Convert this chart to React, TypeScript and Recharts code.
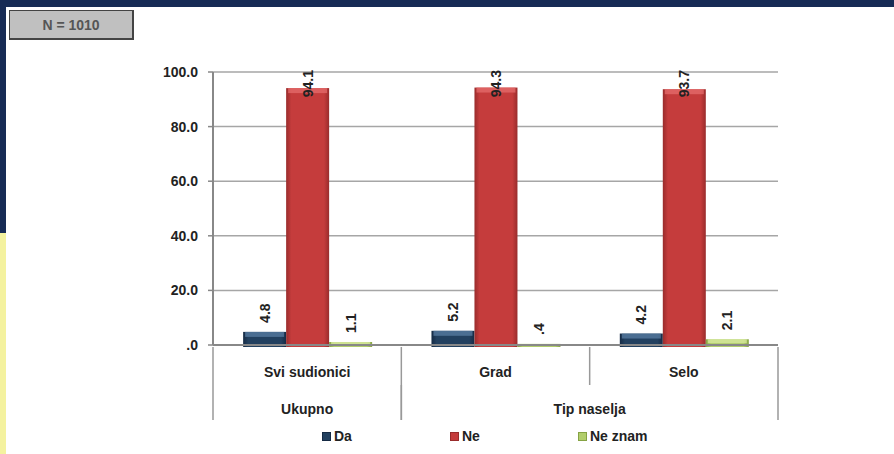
import { BarChart, Bar, XAxis, YAxis, CartesianGrid, Legend, LabelList } from 'recharts';

const categories = ['Svi sudionici', 'Grad', 'Selo'];
const groups = ['Ukupno', 'Tip naselja', 'Tip naselja'];
const daValues = [4.8, 5.2, 4.2];
const neValues = [94.1, 94.3, 93.7];
const neZnamValues = [1.1, 0.4, 2.1];
const yTicks = [0, 20, 40, 60, 80, 100];

const data = categories.map((cat, i) => ({
  cat,
  grp: groups[i],
  da: daValues[i],
  ne: neValues[i],
  neZnam: neZnamValues[i],
}));

const FONT = '"Liberation Sans", Arial, sans-serif';
const PLOT_LEFT = 213;
const PLOT_RIGHT = 778;
const PLOT_TOP = 72;
const PLOT_W = PLOT_RIGHT - PLOT_LEFT;
const ROW1 = 38;
const ROW2 = 35;

// colours: [edge, body, highlight]
const palette = {
  da: ['#152a44', '#22405f', '#5a7ea3'],
  ne: ['#992c2c', '#c53c3c', '#e46c6c'],
  neZnam: ['#86a344', '#b2ce6c', '#d8ea9f'],
};

const series = [
  { key: 'da', name: 'Da' },
  { key: 'ne', name: 'Ne' },
  { key: 'neZnam', name: 'Ne znam' },
];

const fmt = (v: number) => v.toFixed(1).replace(/^0(?=\.)/, '');

const textLen = (s: string) => s.split('').reduce((a, c) => a + (c === '.' ? 3.9 : 7.8), 0);

// bevelled bar, sits a little over the axis line like the original
const bevelShape = (key: string) => (props: any) => {
  const { x, y, width, height } = props;
  if (!height || height <= 0) return null;
  const h = height + 2;
  const hl = Math.min(5, h / 2);
  return (
    <g>
      <rect x={x} y={y} width={width} height={h} fill={`url(#g-${key})`} />
      <rect x={x + 2} y={y} width={width - 4} height={hl} fill={(palette as any)[key][2]} opacity={0.75} />
    </g>
  );
};

const RotLabel = (props: any) => {
  const { x, y, width, value } = props;
  const s = fmt(Number(value));
  const len = textLen(s);
  let ty = y - 9;
  if (ty - len < PLOT_TOP - 2) ty = PLOT_TOP - 2 + len;
  const cx = x + width / 2 + 5;
  return (
    <text
      x={cx}
      y={ty}
      transform={`rotate(-90, ${cx}, ${ty})`}
      textAnchor="start"
      fontFamily={FONT}
      fontSize={14}
      fontWeight="bold"
      fill="#222"
    >
      {s}
    </text>
  );
};

const band = PLOT_W / categories.length;

const CatTick = (props: any) => {
  const { x, y, payload, index } = props;
  return (
    <g>
      <line x1={x - band / 2} x2={x - band / 2} y1={y} y2={y + ROW1} stroke="#999" strokeWidth={1.5} />
      {index === categories.length - 1 && (
        <line x1={x + band / 2} x2={x + band / 2} y1={y} y2={y + ROW1} stroke="#999" strokeWidth={1.5} />
      )}
      <text x={x} y={y + 30} textAnchor="middle" fontFamily={FONT} fontSize={14} fontWeight="bold" fill="#222">
        {payload.value}
      </text>
    </g>
  );
};

const GroupTick = (props: any) => {
  const { x, y, index } = props;
  const isStart = index === 0 || groups[index] !== groups[index - 1];
  const isEnd = index === groups.length - 1 || groups[index] !== groups[index + 1];
  let span = 1;
  while (index + span < groups.length && groups[index + span] === groups[index]) span++;
  return (
    <g>
      {isStart && (
        <line x1={x - band / 2} x2={x - band / 2} y1={y} y2={y + ROW2} stroke="#999" strokeWidth={1.5} />
      )}
      {isEnd && (
        <line x1={x + band / 2} x2={x + band / 2} y1={y} y2={y + ROW2} stroke="#999" strokeWidth={1.5} />
      )}
      {isStart && (
        <text
          x={x + ((span - 1) * band) / 2}
          y={y + 29}
          textAnchor="middle"
          fontFamily={FONT}
          fontSize={14}
          fontWeight="bold"
          fill="#222"
        >
          {groups[index]}
        </text>
      )}
    </g>
  );
};

const LegendContent = () => (
  <div style={{ display: 'flex', paddingLeft: 322, height: 36, alignItems: 'center', fontFamily: FONT }}>
    {series.map((s) => (
      <div key={s.key} style={{ width: 128, display: 'flex', alignItems: 'center' }}>
        <span
          style={{
            display: 'inline-block',
            width: 9,
            height: 9,
            marginRight: 3,
            background: (palette as any)[s.key][1],
            boxShadow: `inset 0 0 0 1px ${(palette as any)[s.key][0]}`,
          }}
        />
        <span style={{ fontSize: 14, fontWeight: 'bold', color: '#222' }}>{s.name}</span>
      </div>
    ))}
  </div>
);

export default function App() {
  return (
    <div style={{ position: 'absolute', left: 0, top: 0, width: 894, height: 454, background: '#fff', overflow: 'hidden' }}>
      <div style={{ position: 'absolute', left: 0, top: 0, width: 894, height: 7, background: '#172b55' }} />
      <div style={{ position: 'absolute', left: 0, top: 0, width: 6, height: 233, background: '#172b55' }} />
      <div style={{ position: 'absolute', left: 0, top: 233, width: 6, height: 221, background: '#f4f29f' }} />
      <div
        style={{
          position: 'absolute',
          left: 9,
          top: 10,
          width: 122,
          height: 27,
          background: '#c0c0c0',
          border: '1px solid #444',
          borderRightWidth: 2,
          borderBottomWidth: 2,
          display: 'flex',
          alignItems: 'center',
          justifyContent: 'center',
          fontFamily: FONT,
          fontSize: 14,
          fontWeight: 'bold',
          color: '#555',
        }}
      >
        N = 1010
      </div>
      <BarChart
        width={894}
        height={454}
        data={data}
        barCategoryGap="16%"
        barGap={0}
        margin={{ top: PLOT_TOP, right: 894 - PLOT_RIGHT, bottom: 0, left: PLOT_LEFT - 60 }}
      >
        <defs>
          {series.map((s) => {
            const [edge, body] = (palette as any)[s.key];
            return (
              <linearGradient key={s.key} id={`g-${s.key}`} x1="0" y1="0" x2="1" y2="0">
                <stop offset="0%" stopColor={edge} />
                <stop offset="12%" stopColor={body} />
                <stop offset="88%" stopColor={body} />
                <stop offset="100%" stopColor={edge} />
              </linearGradient>
            );
          })}
        </defs>
        <CartesianGrid vertical={false} stroke="#a6a6a6" strokeWidth={1.5} />
        <YAxis
          width={60}
          domain={[0, 100]}
          ticks={yTicks}
          tickFormatter={fmt}
          tick={{ fontFamily: FONT, fontSize: 14, fontWeight: 'bold', fill: '#222' }}
          tickSize={5}
          tickMargin={10}
          tickLine={{ stroke: '#888', strokeWidth: 1.5 }}
          axisLine={{ stroke: '#888', strokeWidth: 2 }}
        />
        <XAxis
          dataKey="cat"
          height={ROW1}
          interval={0}
          tickSize={0}
          tickLine={false}
          axisLine={{ stroke: '#888', strokeWidth: 2 }}
          tick={CatTick}
        />
        <XAxis
          xAxisId="grp"
          dataKey="grp"
          height={ROW2}
          interval={0}
          tickSize={0}
          tickLine={false}
          axisLine={false}
          tick={GroupTick}
        />
        <Legend verticalAlign="bottom" content={LegendContent} wrapperStyle={{ left: 0, width: 894 }} />
        {series.map((s) => (
          <Bar key={s.key} dataKey={s.key} name={s.name} isAnimationActive={false} shape={bevelShape(s.key)}>
            <LabelList dataKey={s.key} content={RotLabel} />
          </Bar>
        ))}
      </BarChart>
    </div>
  );
}
